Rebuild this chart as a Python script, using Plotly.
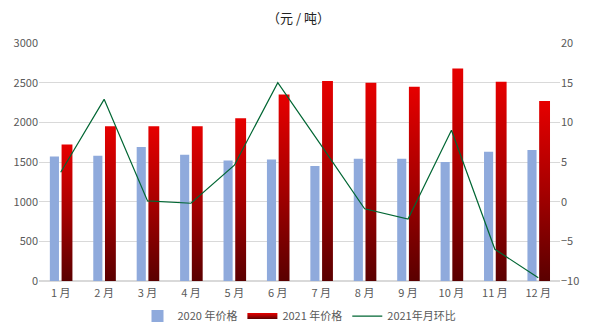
import plotly.graph_objects as go

months = ["1 月", "2 月", "3 月", "4 月", "5 月", "6 月", "7 月", "8 月", "9 月", "10 月", "11 月", "12 月"]
price_2020 = [1570, 1580, 1690, 1590, 1520, 1530, 1450, 1540, 1540, 1500, 1630, 1650]
price_2021 = [1720, 1950, 1950, 1950, 2050, 2350, 2520, 2500, 2450, 2680, 2510, 2270]
mom_2021 = [3.7, 12.9, 0.1, -0.2, 4.6, 15.0, 7.1, -0.9, -2.2, 9.0, -6.0, -9.6]

xs = list(range(len(months)))
font = "Noto Sans CJK SC"
grey = "#595959"

fig = go.Figure()
fig.add_trace(go.Bar(
    x=xs, y=price_2020, name="2020 年价格", width=0.21, offset=-0.25,
    marker=dict(color="#8faadc", line=dict(width=0)),
))
red_w, red_off = 0.25, 0.02
for i, v in zip(xs, price_2021):
    x0, x1 = i + red_off, i + red_off + red_w
    fig.add_trace(go.Scatter(
        x=[x0, x1, x1, x0, x0], y=[0, 0, v, v, 0], mode="none", fill="toself",
        fillgradient=dict(type="vertical", start=0, stop=v,
                          colorscale=[[0, "#5a0000"], [0.5, "#a60000"], [1, "#e60000"]]),
        name="2021 年价格", legendgroup="r", showlegend=(i == 0), hoverinfo="skip",
    ))
fig.add_trace(go.Scatter(
    x=xs, y=mom_2021, name="2021年月环比", yaxis="y2", mode="lines",
    line=dict(color="#006633", width=1.2),
))

fig.update_layout(
    width=597, height=332,
    margin=dict(l=39, r=37, t=43, b=51, autoexpand=False),
    paper_bgcolor="white", plot_bgcolor="white",
    font=dict(family=font, size=11, color=grey),
    title=dict(text="（元 / 吨）", x=0.5, xanchor="center", y=0.945, yanchor="middle",
               font=dict(family=font, size=13, color="#222222")),
    barmode="overlay",
    xaxis=dict(range=[-0.5, 11.5], tickvals=xs, ticktext=months, showgrid=False,
               zeroline=False, showline=False, ticks="", ticklabelstandoff=4,
               tickfont=dict(size=11, color=grey)),
    yaxis=dict(range=[0, 3000], dtick=500, showgrid=True, gridcolor="#d9d9d9", gridwidth=1,
               zeroline=True, zerolinecolor="#d9d9d9", ticks="", tickfont=dict(size=11, color=grey)),
    yaxis2=dict(range=[-10, 20], dtick=5, overlaying="y", side="right", showgrid=False,
                zeroline=False, ticks="", tickfont=dict(size=11, color=grey)),
    legend=dict(orientation="h", x=0.5, xanchor="center", yref="container", y=0.048,
                yanchor="middle", font=dict(size=11, color=grey), traceorder="normal"),
    showlegend=True,
)

fig.write_html("out.html")
